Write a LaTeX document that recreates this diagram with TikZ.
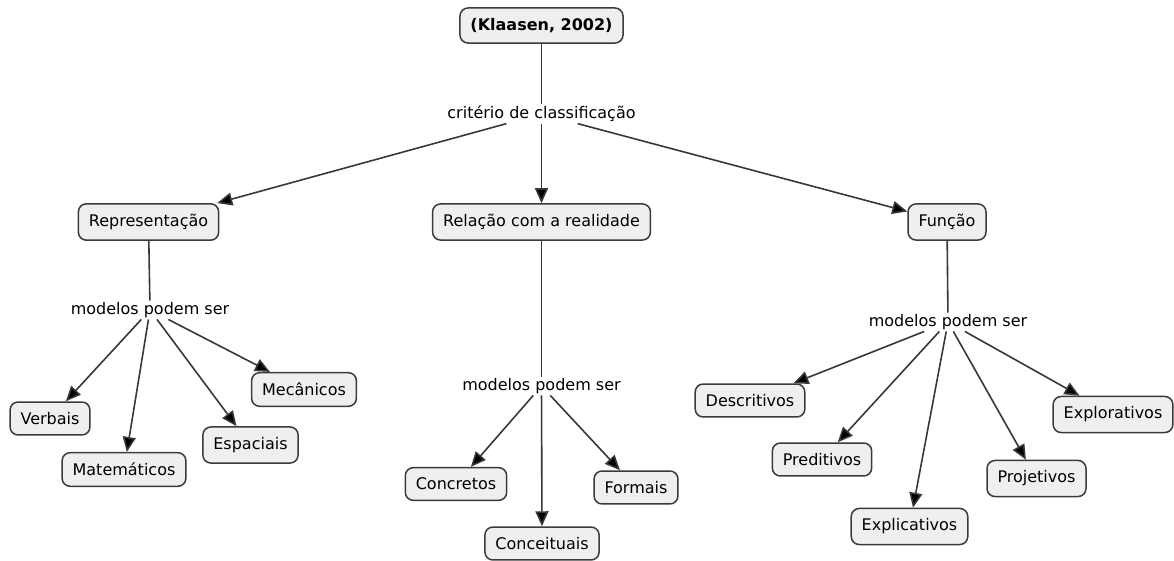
\documentclass[tikz,border=0pt]{standalone}
\usepackage{fontspec}
\setmainfont{DejaVu Sans}
\usetikzlibrary{arrows.meta}
\definecolor{boxfill}{HTML}{EFEFEF}
\definecolor{boxline}{HTML}{3A3A3A}
\definecolor{linkline}{HTML}{383838}
\tikzset{
  concept/.style={draw=boxline, line width=1.5pt, fill=boxfill, rounded corners=8pt,
    inner xsep=10.5pt, inner ysep=10.3pt, font=\fontsize{16}{18}\selectfont},
  linkword/.style={inner sep=1.5pt, fill=white, font=\fontsize{16}{18}\selectfont},
  conn/.style={draw=linkline, line width=1.6pt},
  arr/.style={conn, -{Triangle[length=15pt,width=13pt,fill=black]}},
}
\begin{document}
\begin{tikzpicture}[x=1pt,y=-1pt]
\useasboundingbox (0,0) rectangle (1174,561);

% root and first-level criterion
\node[concept, font=\fontsize{16}{18}\selectfont\bfseries] (root) at (541.5,25.5) {(Klaasen, 2002)};
\node[linkword] (crit) at (541.5,114) {critério de classificação};

\node[concept] (rep) at (148.5,222) {Representação};
\node[concept] (rel) at (541.5,222) {Relação com a realidade};
\node[concept] (fun) at (947,222) {Função};

% representation branch
\node[linkword] (m1) at (150,310) {modelos podem ser};
\node[concept] (verb) at (50,418.5) {Verbais};
\node[concept] (mat) at (124,469.5) {Matemáticos};
\node[concept] (esp) at (250.5,445) {Espaciais};
\node[concept] (mec) at (304,389.5) {Mecânicos};

% relation-with-reality branch
\node[linkword] (m2) at (541.5,386) {modelos podem ser};
\node[concept] (conc) at (456,484) {Concretos};
\node[concept] (form) at (636,487.5) {Formais};
\node[concept] (conce) at (542,543.5) {Conceituais};

% function branch
\node[linkword] (m3) at (948,322) {modelos podem ser};
\node[concept] (desc) at (750,400.5) {Descritivos};
\node[concept] (pred) at (822,459.5) {Preditivos};
\node[concept] (expl) at (909.5,526.5) {Explicativos};
\node[concept] (proj) at (1036.5,478.5) {Projetivos};
\node[concept] (explo) at (1113,414.5) {Explorativos};

% connectors
\draw[conn] (root) -- (crit);
\draw[arr] (crit) -- (rep);
\draw[arr] (crit) -- (rel);
\draw[arr] (crit) -- (fun);

\draw[conn] (rep) -- (m1);
\draw[arr] (m1) -- (verb);
\draw[arr] (m1) -- (mat);
\draw[arr] (m1) -- (esp);
\draw[arr] (m1) -- (mec);

\draw[conn] (rel) -- (m2);
\draw[arr] (m2) -- (conc);
\draw[arr] (m2) -- (form);
\draw[arr] (m2) -- (conce);

\draw[conn] (fun) -- (m3);
\draw[arr] (m3) -- (desc);
\draw[arr] (m3) -- (pred);
\draw[arr] (m3) -- (expl);
\draw[arr] (m3) -- (proj);
\draw[arr] (m3) -- (explo);
\end{tikzpicture}
\end{document}
